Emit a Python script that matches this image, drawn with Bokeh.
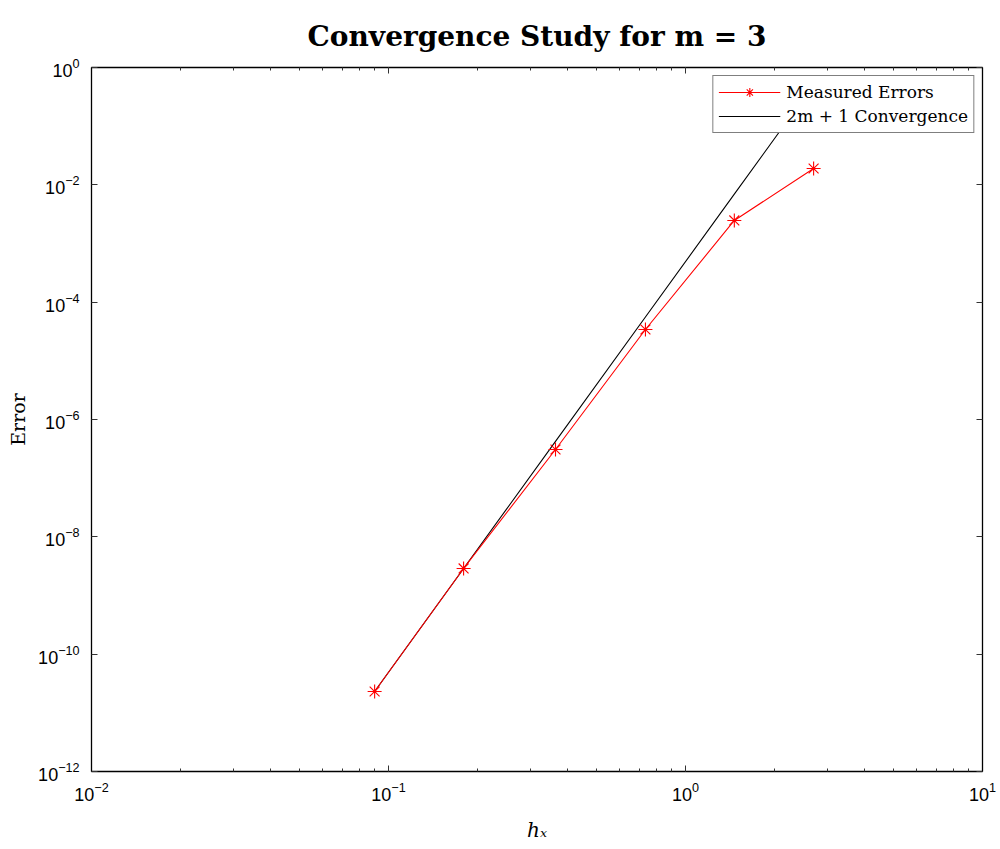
from bokeh.plotting import figure
from bokeh.models import (LogAxis, FixedTicker, LogTicker, Legend, LegendItem, Range1d, Title,
                          CustomJSTickFormatter)
from bokeh.embed import file_html
from bokeh.resources import INLINE
import numpy as np

# Grid spacing and measured errors
h_values = [0.0898, 0.179, 0.365, 0.733, 1.46, 2.70]
errors = [2.31e-11, 2.89e-9, 3.08e-7, 3.42e-5, 2.47e-3, 1.90e-2]
order = 7  # 2m + 1 with m = 3

# Reference slope line anchored at the finest grid point
h_arr = np.array(h_values)
ref_line = errors[0] * (h_arr / h_arr[0]) ** order

y_ticks = [1e-12, 1e-10, 1e-8, 1e-6, 1e-4, 1e-2, 1e0]

p = figure(width=1000, height=849, x_axis_type="log", y_axis_type="log",
           x_range=Range1d(1e-2, 1e1), y_range=Range1d(1e-12, 1e0),
           output_backend="svg", toolbar_location=None,
           min_border_left=91, min_border_right=18, min_border_top=67, min_border_bottom=78)

p.title = Title(text="Convergence Study for m = 3", align="center",
                text_font="DejaVu Serif", text_font_size="28px", text_font_style="bold",
                text_color="black", standoff=30)
p.grid.visible = False
p.outline_line_color = "black"
p.outline_line_width = 1.3
p.background_fill_color = "white"
p.border_fill_color = "white"

tick_font = "Liberation Sans"

def style_axis(ax):
    ax.major_tick_in = 6
    ax.major_tick_out = 0
    ax.minor_tick_in = 3
    ax.minor_tick_out = 0
    ax.axis_line_color = "black"
    ax.major_tick_line_color = "#333333"
    ax.minor_tick_line_color = "#333333"
    ax.major_label_text_font = tick_font
    ax.major_label_text_font_size = "18px"
    ax.major_label_text_color = "black"

xa = p.xaxis[0]
xa.ticker = LogTicker(num_minor_ticks=10)
style_axis(xa)
xa.major_label_standoff = 10
xa.axis_label = "h\u2093"
xa.axis_label_text_font = "DejaVu Serif"
xa.axis_label_text_font_style = "italic"
xa.axis_label_text_font_size = "20px"
xa.axis_label_text_color = "black"
xa.axis_label_standoff = 14

ya = p.yaxis[0]
ya.ticker = FixedTicker(ticks=y_ticks, minor_ticks=[])
style_axis(ya)
ya.major_label_standoff = 12
ya.axis_label = "Error"
ya.axis_label_text_font = "DejaVu Serif"
ya.axis_label_text_font_style = "normal"
ya.axis_label_text_font_size = "19px"
ya.axis_label_text_color = "black"
ya.axis_label_standoff = 6

# Mirror ticks on the top and right edges, without labels
blank = CustomJSTickFormatter(code="return ''")

top = LogAxis(ticker=LogTicker(num_minor_ticks=10), formatter=blank)
style_axis(top)
top.major_label_standoff = 0
top.major_label_text_font_size = "1px"
p.add_layout(top, "above")

right = LogAxis(ticker=FixedTicker(ticks=y_ticks, minor_ticks=[]), formatter=blank)
style_axis(right)
right.major_label_standoff = 0
right.major_label_text_font_size = "1px"
p.add_layout(right, "right")

r_ref = p.line(h_values, ref_line, line_color="black", line_width=1.1)
r_meas = p.line(h_values, errors, line_color="red", line_width=1.1)
r_pts = p.scatter(h_values, errors, marker="asterisk", size=14, line_color="red", line_width=1.1)

legend = Legend(items=[LegendItem(label="Measured Errors", renderers=[r_meas, r_pts]),
                       LegendItem(label="2m + 1 Convergence", renderers=[r_ref])],
                location="top_right", orientation="vertical")
legend.label_text_font = "DejaVu Serif"
legend.label_text_font_size = "17px"
legend.label_text_color = "black"
legend.border_line_color = "black"
legend.border_line_width = 1
legend.background_fill_alpha = 1
legend.glyph_width = 62
legend.glyph_height = 22
legend.spacing = 2
legend.padding = 5
legend.margin = 8
legend.label_standoff = 6
p.add_layout(legend, "center")

open("out.html", "w").write(file_html(p, INLINE))
